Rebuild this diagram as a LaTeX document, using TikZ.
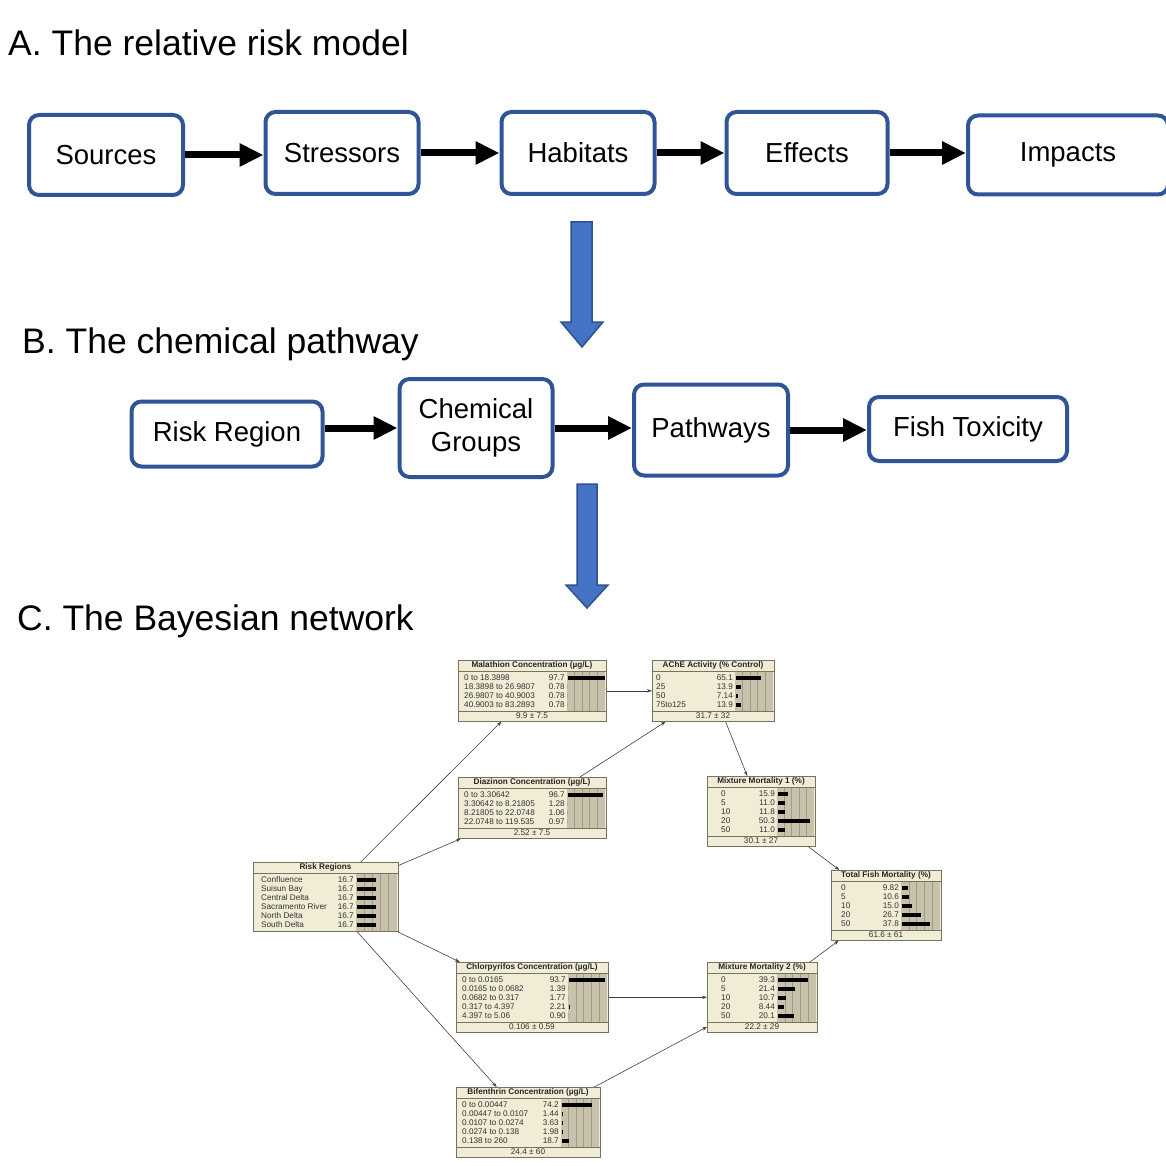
\documentclass[tikz,border=0pt]{standalone}
\usepackage{fontspec}
\setmainfont{Liberation Sans}
\usetikzlibrary{arrows.meta}

\definecolor{boxblue}{RGB}{47,85,151}
\definecolor{arrowfill}{RGB}{68,114,196}
\definecolor{arrowedge}{RGB}{47,82,143}
\definecolor{bnbg}{RGB}{241,236,214}
\definecolor{bnchartcol}{RGB}{200,194,172}
\definecolor{bngridcol}{RGB}{160,154,134}
\definecolor{bnedge}{RGB}{120,114,96}

% Netica-style node: [label indent]{name}{left}{top}{width}{value offset}{title}{footer}{rows}
\newcommand{\bnnode}[9][6]{%
  \foreach \rr [count=\n] in {#9} {\xdef\bnrows{\n}}%
  \pgfmathsetmacro{\bodyh}{\bnrows*9+4}%
  \if\relax\detokenize{#8}\relax\def\bnfoot{0}\else\def\bnfoot{10}\fi
  \pgfmathsetmacro{\boxh}{11+\bodyh+\bnfoot}%
  \pgfmathsetmacro{\chl}{#3+#6+2}%
  \pgfmathsetmacro{\chw}{#5-#6-3.5}%
  \node[bnbox, minimum width=#5pt, minimum height=\boxh pt, anchor=north west] (#2) at (#3,#4) {};
  \fill[bnchart] (\chl,#4+11) rectangle ++(\chw,\bodyh);
  \foreach \g in {1,...,4} \draw[bngrid] (\chl+\g*\chw/5,#4+11) -- ++(0,\bodyh);
  \draw[bnedge, line width=0.5pt] (#3,#4+11) -- ++(#5,0);
  \node[bntitle] at (#3+#5/2,#4+5.8) {#7};
  \foreach \rlab/\rval/\rlen [count=\i] in {#9} {
    \node[bnrow, anchor=west] at (#3+#1,#4+8.5+\i*9) {\rlab};
    \node[bnrow, anchor=east] at (#3+#6,#4+8.5+\i*9) {\rval};
    \fill (\chl+0.5,#4+6.5+\i*9) rectangle ++(\rlen,4);
  }
  \ifnum\bnfoot>0
    \draw[bnedge, line width=0.5pt] (#3,#4+11+\bodyh) -- ++(#5,0);
    \node[bnrow] at (#3+#5/2,#4+16+\bodyh) {#8};
  \fi
}

\begin{document}
\begin{tikzpicture}[
  x=1pt, y=-1pt,
  box/.style={rectangle, rounded corners=10pt, draw=boxblue, line width=4pt, fill=white, minimum width=153pt, minimum height=82pt, align=center, font=\fontsize{27.5}{33}\selectfont},
  flow/.style={line width=7pt, -{Triangle[length=24pt,width=22pt]}},
  heading/.style={anchor=base west, inner sep=0pt, font=\fontsize{35.5}{40}\selectfont},
  bigarrow/.style={fill=arrowfill, draw=arrowedge, line width=1.5pt},
  bnbox/.style={rectangle, draw=bnedge, fill=bnbg, line width=0.6pt, inner sep=0pt},
  bntitle/.style={font=\fontsize{8.2}{9}\selectfont\bfseries, inner sep=0pt, text=black!85},
  bnrow/.style={font=\fontsize{8.2}{9}\selectfont, inner sep=0pt, text height=5.9pt, text depth=0pt, text=black!80},
  bngrid/.style={draw=bngridcol, line width=0.4pt},
  bnchart/.style={fill=bnchartcol},
  bnlink/.style={draw=black!75, line width=0.6pt, -{Stealth[length=5pt,width=3.5pt]}}
]
\useasboundingbox (0,0) rectangle (1165,1166);

% A. relative risk model
\node[heading] (headA) at (8,56) {A. The relative risk model};
\node[box, minimum width=154pt, minimum height=80pt] (sources) at (106,155) {Sources};
\node[box] (stressors) at (342,153) {Stressors};
\node[box] (habitats) at (578,153) {Habitats};
\node[box, minimum width=161pt] (effects) at (807,153) {Effects};
\node[box, minimum width=200pt, minimum height=79pt] (impacts) at (1068,155) {Impacts};

\draw[flow] (sources.east) -- (sources.east -| stressors.west);
\draw[flow] (stressors.east) -- (stressors.east -| habitats.west);
\draw[flow] (habitats.east) -- (habitats.east -| effects.west);
\draw[flow] (effects.east) -- (effects.east -| impacts.west);

\draw[bigarrow] (571,222) -- (592,222) -- (592,322) -- (603,322) -- (582,347) -- (561,322) -- (571,322) -- cycle;

% B. chemical pathway
\node[heading] (headB) at (22,353) {B. The chemical pathway};
\node[box, minimum width=191pt, minimum height=65pt] (riskreg) at (227,434) {Risk Region};
\node[box, minimum height=98pt] (chemgroups) at (476,428) {Chemical\\Groups};
\node[box, minimum width=154pt, minimum height=91pt] (pathways) at (711,430) {Pathways};
\node[box, minimum width=198pt, minimum height=64pt] (fishtox) at (968,429) {Fish Toxicity};

\draw[flow] (chemgroups.west -| riskreg.east) -- (chemgroups.west);
\draw[flow] (chemgroups.east) -- (chemgroups.east -| pathways.west);
\draw[flow] (pathways.east) -- (pathways.east -| fishtox.west);

\draw[bigarrow] (577,484) -- (597,484) -- (597,585) -- (608,585) -- (587,608) -- (566,585) -- (577,585) -- cycle;

% C. Bayesian network
\node[heading] (headC) at (17,630) {C. The Bayesian network};

\bnnode{mal}{458}{660}{148}{107}{Malathion Concentration (µg/L)}{9.9 ± 7.5}
  {0 to 18.3898/97.7/37, 18.3898 to 26.9807/0.78/0, 26.9807 to 40.9003/0.78/0, 40.9003 to 83.2893/0.78/0}
\bnnode[4]{ache}{652}{660}{122}{81}{AChE Activity (\% Control)}{31.7 ± 32}
  {0/65.1/25, 25/13.9/5, 50/7.14/2, 75to125/13.9/5}
\bnnode{diaz}{458}{777}{148}{107}{Diazinon Concentration (µg/L)}{2.52 ± 7.5}
  {0 to 3.30642/96.7/35, 3.30642 to 8.21805/1.28/0, 8.21805 to 22.0748/1.06/0, 22.0748 to 119.535/0.97/0}
\bnnode[14]{mmone}{707}{776}{108}{68}{Mixture Mortality 1 (\%)}{30.1 ± 27}
  {0/15.9/10, 5/11.0/7, 10/11.8/7, 20/50.3/32, 50/11.0/7}
\bnnode[8]{regions}{253}{862}{145}{101}{Risk Regions}{}
  {Confluence/16.7/19, Suisun Bay/16.7/19, Central Delta/16.7/19, Sacramento River/16.7/19, North Delta/16.7/19, South Delta/16.7/19}
\bnnode[10]{fishmort}{831}{870}{110}{68}{Total Fish Mortality (\%)}{61.6 ± 61}
  {0/9.82/6, 5/10.6/7, 10/15.0/10, 20/26.7/19, 50/37.8/28}
\bnnode{chlor}{456}{962}{152}{110}{Chlorpyrifos Concentration (µg/L)}{0.106 ± 0.59}
  {0 to 0.0165/93.7/36, 0.0165 to 0.0682/1.39/0, 0.0682 to 0.317/1.77/0, 0.317 to 4.397/2.21/1, 4.397 to 5.06/0.90/0}
\bnnode[14]{mmtwo}{707}{962}{110}{68}{Mixture Mortality 2 (\%)}{22.2 ± 29}
  {0/39.3/30, 5/21.4/17, 10/10.7/8, 20/8.44/6, 50/20.1/16}
\bnnode{bif}{456}{1087}{144}{103}{Bifenthrin Concentration (µg/L)}{24.4 ± 60}
  {0 to 0.00447/74.2/30, 0.00447 to 0.0107/1.44/0.5, 0.0107 to 0.0274/3.63/1, 0.0274 to 0.138/1.98/0.7, 0.138 to 260/18.7/7}

% Links between variables
\draw[bnlink] (regions) -- (mal);
\draw[bnlink] (regions) -- (diaz);
\draw[bnlink] (regions) -- (chlor);
\draw[bnlink] (regions) -- (bif);
\draw[bnlink] (mal) -- (ache);
\draw[bnlink] (diaz) -- (ache);
\draw[bnlink] (ache) -- (mmone);
\draw[bnlink] (chlor) -- (mmtwo);
\draw[bnlink] (bif) -- (mmtwo);
\draw[bnlink] (mmone) -- (fishmort);
\draw[bnlink] (mmtwo) -- (fishmort);

\end{tikzpicture}
\end{document}
